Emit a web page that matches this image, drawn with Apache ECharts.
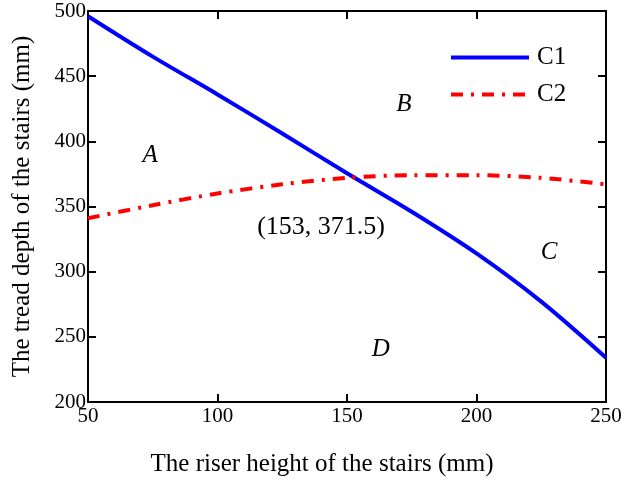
<!DOCTYPE html>
<html lang="en">
  <head>
    <meta charset="UTF-8" />
    <title>Stairs</title>
    <script src="https://cdn.jsdelivr.net/npm/echarts@6.0.0/dist/echarts.min.js"></script>
    <style>
      body { margin: 0; background: #fff; }
    </style>
  </head>
  <body>
    <div id="main" style="width: 627px; height: 486px"></div>
    <script type="text/javascript">
      // riser height (mm) and tread depth (mm) of the two curves
      const riser = [50, 75, 100, 125, 150, 175, 200, 225, 250];
      const c1 = [496, 465, 436, 406, 375.5, 346, 314, 277, 234];
      const c2 = [341, 351, 360, 367, 372, 374, 374, 372, 367];

      // region letters and the intersection note
      const letters = ["A", "B", "C", "D"];
      const letterX = [74, 172, 228, 163];
      const letterY = [389, 428, 315, 240];
      const noteText = ["(153, 371.5)"];
      const noteX = [140];
      const noteY = [334];

      const font = "Liberation Serif";
      const axisLine = { show: true, lineStyle: { color: "#000", width: 2 } };
      const ticks = { show: true, inside: true, length: 8, lineStyle: { color: "#000", width: 2 } };

      let myChart = echarts.init(document.getElementById("main"));
      let options = {
        animation: false,
        grid: { left: 88, right: 21, top: 11, bottom: 84 },
        legend: {
          data: ["C1", "C2"],
          orient: "vertical",
          left: 444,
          top: 40,
          itemWidth: 78,
          itemHeight: 14,
          itemGap: 12,
          itemStyle: { opacity: 0 },
          lineStyle: { width: 4 },
          textStyle: { fontFamily: font, fontSize: 25, color: "#000", padding: [0, 0, 0, 3] },
        },
        xAxis: [
          {
            type: "value",
            min: 50,
            max: 250,
            interval: 50,
            name: "The riser height of the stairs (mm)",
            nameLocation: "middle",
            nameGap: 50,
            nameTextStyle: { fontFamily: font, fontSize: 25, color: "#000", padding: [0, 50, 0, 0] },
            axisLine: axisLine,
            axisTick: ticks,
            splitLine: { show: false },
            axisLabel: { fontFamily: font, fontSize: 21, color: "#000", margin: 4 },
          },
          {
            type: "value",
            position: "top",
            min: 50,
            max: 250,
            interval: 50,
            axisLine: axisLine,
            axisTick: ticks,
            splitLine: { show: false },
            axisLabel: { show: false },
          },
        ],
        yAxis: [
          {
            type: "value",
            min: 200,
            max: 500,
            interval: 50,
            name: "The tread depth of the stairs (mm)",
            nameLocation: "middle",
            nameGap: 53,
            nameTextStyle: { fontFamily: font, fontSize: 25, color: "#000" },
            axisLine: axisLine,
            axisTick: ticks,
            splitLine: { show: false },
            axisLabel: { fontFamily: font, fontSize: 21, color: "#000", margin: 2 },
          },
          {
            type: "value",
            position: "right",
            min: 200,
            max: 500,
            interval: 50,
            axisLine: axisLine,
            axisTick: ticks,
            splitLine: { show: false },
            axisLabel: { show: false },
          },
        ],
        series: [
          {
            name: "C1",
            type: "line",
            data: riser.map((x, i) => [x, c1[i]]),
            smooth: 0.3,
            symbol: "none",
            lineStyle: { color: "#0000ff", width: 4 },
            itemStyle: { color: "#0000ff" },
          },
          {
            name: "C2",
            type: "line",
            data: riser.map((x, i) => [x, c2[i]]),
            smooth: 0.3,
            symbol: "none",
            lineStyle: { color: "#ff0000", width: 4, type: [12, 8, 3, 8] },
            itemStyle: { color: "#ff0000" },
          },
          {
            name: "letters",
            type: "scatter",
            symbolSize: 0,
            itemStyle: { opacity: 1 },
            data: letters.map((t, i) => ({ name: t, value: [letterX[i], letterY[i]] })),
            label: {
              show: true,
              position: "inside",
              formatter: "{b}",
              fontFamily: font,
              fontStyle: "italic",
              fontSize: 25,
              color: "#000",
              opacity: 1,
            },
          },
          {
            name: "note",
            type: "scatter",
            symbolSize: 0,
            itemStyle: { opacity: 1 },
            data: noteText.map((t, i) => ({ name: t, value: [noteX[i], noteY[i]] })),
            label: {
              show: true,
              position: "inside",
              formatter: "{b}",
              fontFamily: font,
              fontSize: 26,
              color: "#000",
              opacity: 1,
            },
          },
        ],
      };
      myChart.setOption(options);
    </script>
  </body>
</html>
